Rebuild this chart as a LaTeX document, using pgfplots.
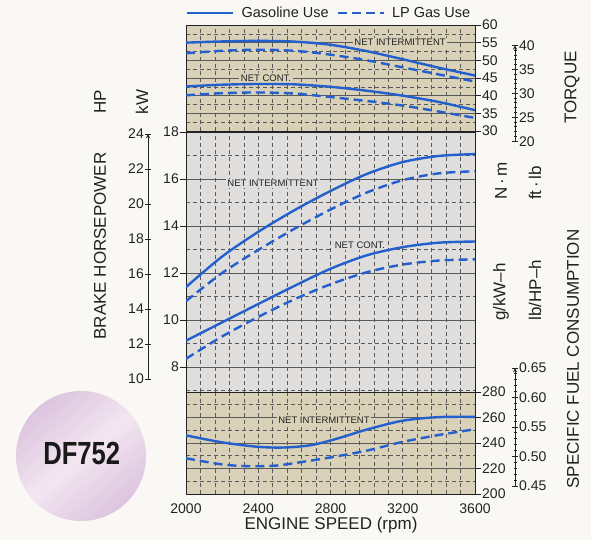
\documentclass[border=0pt]{standalone}
\usepackage{fontspec}
\setmainfont{Liberation Sans}
\usepackage{pgfplots}
\pgfplotsset{compat=1.18}
\definecolor{bgc}{HTML}{F9F8F4}
\definecolor{tanc}{HTML}{D9D1B8}
\definecolor{midg}{HTML}{DFDEDD}
\definecolor{curve}{HTML}{235FCD}
\definecolor{gridc}{HTML}{5A5A5A}
\definecolor{txt}{HTML}{222222}
\definecolor{lavA}{HTML}{DCC4DE}
\definecolor{lavB}{HTML}{F3E6F1}
\tikzset{ann/.style={font=\fontsize{9.5}{10}\selectfont, text=txt, inner sep=1.5pt}}
\pgfplotsset{
  ticknum/.style={font=\fontsize{14}{16}\selectfont, text=txt},
  panel/.style={
    scale only axis, width=289pt,
    xmin=2000, xmax=3600,
    xtick={2000,2400,...,3600},
    minor xtick={2080,2160,...,3520},
    x tick style={draw=none}, minor x tick style={draw=none},
    minor y tick style={draw=none},
    y tick style={txt, line width=0.8pt},
    tick align=outside, major tick length=6pt,
    grid=both,
    major x grid style={gridc, dash pattern=on 4pt off 3pt, line width=0.6pt},
    minor x grid style={gridc, dash pattern=on 4pt off 3pt, line width=0.6pt},
    major y grid style={gridc, solid, line width=0.8pt},
    minor y grid style={gridc, dash pattern=on 4pt off 3pt, line width=0.6pt},
    axis line style={txt, line width=0.9pt},
    tick label style={ticknum},
    /pgf/number format/assume math mode=true,
    /pgf/number format/1000 sep={},
    yticklabel style={inner sep=1pt},
  },
  gas/.style={curve, line width=2.4pt, smooth},
  lpg/.style={curve, line width=2.4pt, smooth, dash pattern=on 9pt off 5pt},
  sideaxis/.style={
    scale only axis, width=1pt, xmin=0, xmax=1,
    axis x line=none, axis line style={-, txt, line width=0.9pt},
    tick align=outside, major tick length=6pt, minor tick length=3pt,
    tick style={txt, line width=0.8pt},
    tick label style={ticknum},
    /pgf/number format/assume math mode=true,
  },
}
\begin{document}
\begin{tikzpicture}[x=1pt,y=1pt]
\useasboundingbox (0,0) rectangle (591,540);
\fill[bgc] (0,0) rectangle (591,540);

% ---------- top panel: torque (N m)
\begin{axis}[panel, at={(186pt,409pt)}, anchor=south west, height=106pt,
  ymin=30, ymax=60, ytick={30,35,...,60}, minor ytick={32.5,37.5,...,57.5},
  axis background/.style={fill=tanc},
  xticklabels={}, ytick pos=right, yticklabel pos=right,
  legend columns=2,
  legend style={at={(axis description cs:0,1)}, anchor=south west, yshift=4pt,
    draw=none, fill=none, inner sep=0pt, font=\fontsize{14.5}{16}\selectfont, text=txt,
    /tikz/every odd column/.append style={column sep=5pt},
    /tikz/every even column/.append style={column sep=6pt}},
  legend image code/.code={\draw[#1] (0pt,0pt) -- (46pt,0pt);},
  ]
\node[ann, fill=tanc] at (axis cs:3185,55) {NET INTERMITTENT};
\node[ann, fill=tanc] at (axis cs:2443,45) {NET CONT.};
\addplot[gas] coordinates {(2000,55.0)(2200,55.35)(2400,55.5)(2600,55.3)(2800,54.4)(3000,52.6)(3200,50.3)(3400,47.9)(3600,45.7)};
\addlegendentry{Gasoline Use}
\addplot[lpg] coordinates {(2000,52.0)(2200,52.7)(2400,53.0)(2600,52.7)(2800,51.6)(3000,50.0)(3200,48.0)(3400,46.0)(3600,44.0)};
\addlegendentry{LP Gas Use}
\addplot[gas, forget plot] coordinates {(2000,42.6)(2200,43.1)(2400,43.3)(2600,43.2)(2800,42.5)(3000,41.4)(3200,40.0)(3400,38.2)(3600,35.9)};
\addplot[lpg, forget plot] coordinates {(2000,40.1)(2200,40.7)(2400,40.9)(2600,40.6)(2800,39.6)(3000,38.5)(3200,37.2)(3400,35.5)(3600,33.7)};
\end{axis}

% ---------- middle panel: power (kW)
\begin{axis}[panel, at={(186pt,148pt)}, anchor=south west, height=260pt,
  ymin=6.936, ymax=18, ytick={8,10,...,18}, minor ytick={7,9,...,17},
  axis background/.style={fill=midg},
  xticklabels={}, ytick pos=left, yticklabel pos=left]
\node[ann, fill=midg] at (axis cs:2482,15.8) {NET INTERMITTENT};
\node[ann, fill=midg] at (axis cs:2963,13.19) {NET CONT.};
\addplot[gas] coordinates {(2000,11.4)(2200,12.7)(2400,13.75)(2600,14.67)(2800,15.49)(3000,16.21)(3200,16.72)(3400,16.98)(3600,17.06)};
\addplot[lpg] coordinates {(2000,10.8)(2200,12.0)(2400,12.98)(2600,13.88)(2800,14.7)(3000,15.42)(3200,15.95)(3400,16.24)(3600,16.33)};
\addplot[gas] coordinates {(2000,9.12)(2200,9.9)(2400,10.68)(2600,11.45)(2800,12.18)(3000,12.75)(3200,13.1)(3400,13.29)(3600,13.34)};
\addplot[lpg] coordinates {(2000,8.35)(2200,9.3)(2400,10.13)(2600,10.88)(2800,11.52)(3000,12.03)(3200,12.36)(3400,12.53)(3600,12.58)};
\end{axis}

% ---------- bottom panel: specific fuel consumption
\begin{axis}[panel, at={(186pt,46pt)}, anchor=south west, height=102pt,
  ymin=200, ymax=280, ytick={200,220,...,280}, minor ytick={210,230,...,270},
  axis background/.style={fill=tanc},
  ytick pos=right, yticklabel pos=right]
\node[ann, fill=tanc] at (axis cs:2764,258) {NET INTERMITTENT};
\addplot[gas] coordinates {(2000,246)(2200,240.5)(2400,237)(2550,236.5)(2700,238.5)(2850,244)(3000,250.5)(3200,257.5)(3400,260.3)(3600,260.5)};
\addplot[lpg] coordinates {(2000,228)(2200,223.2)(2350,221.8)(2500,222.3)(2650,225.3)(2800,228.7)(3000,234)(3200,240.9)(3400,246.3)(3600,250.8)};
\end{axis}

% ---------- HP axis
\begin{axis}[sideaxis, at={(148pt,161pt)}, anchor=south west, height=245pt,
  ymin=10, ymax=24, ytick={10,12,...,24}, axis y line=left,
  yticklabel style={inner sep=1pt}]
\addplot[draw=none] coordinates {(0,10)};
\end{axis}

% ---------- ft lb axis
\begin{axis}[sideaxis, at={(514pt,398.8pt)}, anchor=south west, height=95.8pt,
  ymin=20, ymax=40, ytick={20,25,...,40}, minor y tick num=4, axis y line=right,
  yticklabel style={inner sep=1pt}]
\addplot[draw=none] coordinates {(0,20)};
\end{axis}

% ---------- lb/HP-h axis
\begin{axis}[sideaxis, at={(514pt,54pt)}, anchor=south west, height=118pt,
  ymin=0.45, ymax=0.65, ytick={0.45,0.50,...,0.65}, minor y tick num=4, axis y line=right,
  yticklabel style={inner sep=1pt, /pgf/number format/fixed, /pgf/number format/precision=2, /pgf/number format/fixed zerofill}]
\addplot[draw=none] coordinates {(0,0.5)};
\end{axis}

% ---------- texts
\begin{scope}[every node/.style={text=txt, font=\fontsize{17}{19}\selectfont}]
\node[rotate=90] at (100,438) {HP};
\node[rotate=90] at (142,438) {kW};
\node[rotate=90] at (100,294) {BRAKE HORSEPOWER};
\node[rotate=90] at (501,359) {N\,·\,m};
\node[rotate=90] at (535,357) {ft\,·\,lb};
\node[rotate=90] at (501,248) {g/kW–h};
\node[rotate=90] at (535,250) {lb/HP–h};
\node[rotate=90] at (572,452.5) {TORQUE};
\node[rotate=90] at (573,181) {SPECIFIC FUEL CONSUMPTION};
\node at (331,15) {ENGINE SPEED (rpm)};
\end{scope}

% ---------- DF752 badge
\shade[shading=axis, top color=lavA, bottom color=lavA, middle color=lavB, shading angle=40] (81,84) circle (65);
\node[xscale=0.8, font=\fontsize{32}{34}\selectfont\bfseries, text=black!90] at (81.7,86.7) {DF752};
\end{tikzpicture}
\end{document}
